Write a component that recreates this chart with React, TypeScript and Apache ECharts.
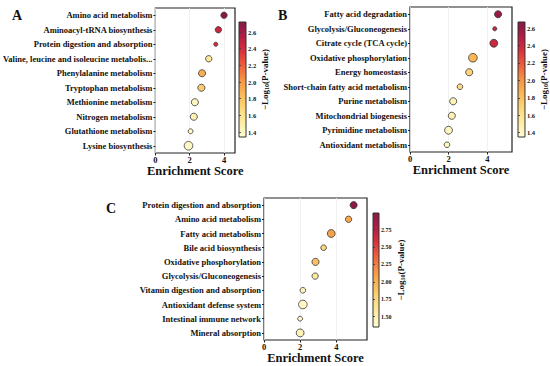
import React, { useEffect, useRef } from "react";
import * as echarts from "echarts";

// ---------- Panel A ----------
const catA = [
  "Amino acid metabolism",
  "Aminoacyl-tRNA biosynthesis",
  "Protein digestion and absorption",
  "Valine, leucine and isoleucine metabolis...",
  "Phenylalanine metabolism",
  "Tryptophan metabolism",
  "Methionine metabolism",
  "Nitrogen metabolism",
  "Glutathione metabolism",
  "Lysine biosynthesis",
];
const scoreA = [4.0, 3.67, 3.52, 3.11, 2.72, 2.68, 2.3, 2.24, 2.05, 1.93];
const pvalA = [2.7, 2.45, 2.38, 1.55, 1.9, 1.75, 1.42, 1.45, 1.4, 1.38];
const countA = [5, 5, 2, 5, 6, 6, 6, 6, 3, 8];

// ---------- Panel B ----------
const catB = [
  "Fatty acid degradation",
  "Glycolysis/Gluconeogenesis",
  "Citrate cycle (TCA cycle)",
  "Oxidative phosphorylation",
  "Energy homeostasis",
  "Short-chain fatty acid metabolism",
  "Purine metabolism",
  "Mitochondrial biogenesis",
  "Pyrimidine metabolism",
  "Antioxidant metabolism",
];
const scoreB = [4.55, 4.38, 4.33, 3.25, 3.06, 2.58, 2.23, 2.16, 1.99, 1.91];
const pvalB = [2.6, 2.42, 2.4, 1.85, 1.7, 1.65, 1.45, 1.45, 1.4, 1.42];
const countB = [6, 2, 7, 8, 6, 4, 6, 6, 7, 4];

// ---------- Panel C ----------
const catC = [
  "Protein digestion and absorption",
  "Amino acid metabolism",
  "Fatty acid metabolism",
  "Bile acid biosynthesis",
  "Oxidative phosphorylation",
  "Glycolysis/Gluconeogenesis",
  "Vitamin digestion and absorption",
  "Antioxidant defense system",
  "Intestinal immune network",
  "Mineral absorption",
];
const scoreC = [4.96, 4.68, 3.72, 3.3, 2.85, 2.83, 2.15, 2.15, 2.0, 2.0];
const pvalC = [2.95, 2.05, 2.1, 1.75, 1.9, 1.6, 1.45, 1.4, 1.4, 1.45];
const countC = [6, 5, 7, 4, 6, 5, 4, 8, 3, 7];

// colour bar ranges and ticks
const cbRangeA = [1.34, 2.72];
const cbRangeB = [1.35, 2.67];
const cbRangeC = [1.35, 2.99];
const cbTicksAB = [1.4, 1.6, 1.8, 2.0, 2.2, 2.4, 2.6];
const cbTicksC = [1.5, 1.75, 2.0, 2.25, 2.5, 2.75];
const xTicks = [0, 2, 4];

const PALETTE = [
  "#fffcd2",
  "#feeda2",
  "#fdd87a",
  "#fbb756",
  "#f79244",
  "#ef5d3c",
  "#d9303c",
  "#b11c45",
  "#841a47",
];

const FONT = "Liberation Serif, Times New Roman, serif";

function gradient() {
  const n = PALETTE.length - 1;
  return new echarts.graphic.LinearGradient(
    0,
    1,
    0,
    0,
    PALETTE.map((c, i) => ({ offset: i / n, color: c }))
  );
}

type Panel = {
  cats: string[];
  scores: number[];
  pvals: number[];
  counts: number[];
  xMax: number;
  cbRange: number[];
  cbTicks: number[];
  dec: number;
  plot: { left: number; top: number; width: number; height: number };
  bar: { left: number; top: number; width: number; height: number };
  cbLabelSize: number;
  cbNameGap: number;
};

export default function App() {
  const ref = useRef<HTMLDivElement>(null);

  useEffect(() => {
    if (!ref.current) return;
    const chart = echarts.init(ref.current, undefined, { renderer: "svg" });

    const panels: Panel[] = [
      {
        cats: catA,
        scores: scoreA,
        pvals: pvalA,
        counts: countA,
        xMax: 4.64,
        cbRange: cbRangeA,
        cbTicks: cbTicksAB,
        dec: 1,
        plot: { left: 155, top: 8, width: 80, height: 145 },
        bar: { left: 239, top: 22, width: 7, height: 115 },
        cbLabelSize: 6.5,
        cbNameGap: 12,
      },
      {
        cats: catB,
        scores: scoreB,
        pvals: pvalB,
        counts: countB,
        xMax: 5.27,
        cbRange: cbRangeB,
        cbTicks: cbTicksAB,
        dec: 1,
        plot: { left: 410, top: 7, width: 102, height: 145 },
        bar: { left: 518, top: 22, width: 7.5, height: 115 },
        cbLabelSize: 6.5,
        cbNameGap: 12,
      },
      {
        cats: catC,
        scores: scoreC,
        pvals: pvalC,
        counts: countC,
        xMax: 5.7,
        cbRange: cbRangeC,
        cbTicks: cbTicksC,
        dec: 2,
        plot: { left: 264, top: 198, width: 103, height: 142 },
        bar: { left: 373, top: 213, width: 6, height: 114 },
        cbLabelSize: 6,
        cbNameGap: 16,
      },
    ];

    const grid: any[] = [];
    const xAxis: any[] = [];
    const yAxis: any[] = [];
    const series: any[] = [];
    const visualMap: any[] = [];

    panels.forEach((p, i) => {
      const gPlot = grid.length;
      grid.push({
        ...p.plot,
        show: true,
        borderColor: "#222",
        borderWidth: 1.2,
        backgroundColor: "transparent",
      });
      const gBar = grid.length;
      grid.push({
        ...p.bar,
        show: true,
        borderColor: "#333",
        borderWidth: 1,
        backgroundColor: gradient(),
      });

      xAxis.push({
        gridIndex: gPlot,
        type: "value",
        min: 0,
        max: p.xMax,
        name: "Enrichment Score",
        nameLocation: "middle",
        nameGap: 9,
        nameTextStyle: {
          fontFamily: FONT,
          fontWeight: "bold",
          fontSize: 12.5,
          color: "#111",
          verticalAlign: "top",
        },
        axisLine: { show: false },
        axisTick: {
          show: true,
          length: 2.5,
          customValues: xTicks,
          lineStyle: { color: "#222", width: 1 },
        },
        axisLabel: {
          customValues: xTicks,
          margin: 2,
          fontFamily: FONT,
          fontWeight: "bold",
          fontSize: 8.5,
          color: "#111",
        },
        splitLine: { show: true, lineStyle: { color: "#eeeeee", width: 0.8 } },
      });
      xAxis.push({
        gridIndex: gBar,
        type: "value",
        show: false,
        min: 0,
        max: 1,
      });

      yAxis.push({
        gridIndex: gPlot,
        type: "category",
        data: p.cats,
        inverse: true,
        axisLine: { show: false },
        axisTick: {
          show: true,
          alignWithLabel: true,
          length: 2,
          lineStyle: { color: "#222" },
        },
        axisLabel: {
          margin: 3,
          fontFamily: FONT,
          fontWeight: "bold",
          fontSize: 8.5,
          color: "#111",
        },
        splitLine: { show: false },
      });
      yAxis.push({
        gridIndex: gBar,
        type: "value",
        position: "right",
        min: p.cbRange[0],
        max: p.cbRange[1],
        axisLine: { show: false },
        splitLine: { show: false },
        axisTick: {
          show: true,
          length: 2,
          customValues: p.cbTicks,
          lineStyle: { color: "#333", width: 0.8 },
        },
        axisLabel: {
          customValues: p.cbTicks,
          margin: 2,
          formatter: (v: number) => v.toFixed(p.dec),
          fontFamily: FONT,
          fontWeight: "bold",
          fontSize: p.cbLabelSize,
          color: "#111",
        },
        name: "{m|\u2212Log}{s|10}{m|(P-value)}",
        nameLocation: "middle",
        nameRotate: 90,
        nameGap: p.cbNameGap,
        nameTextStyle: {
          rich: {
            m: {
              fontFamily: FONT,
              fontWeight: "bold",
              fontSize: 9,
              color: "#111",
              lineHeight: 11,
            },
            s: {
              fontFamily: FONT,
              fontWeight: "bold",
              fontSize: 6,
              color: "#111",
              lineHeight: 11,
              verticalAlign: "bottom",
              padding: [3, 0, 0, 0],
            },
          },
        },
      });

      const sIdx = series.length;
      series.push({
        type: "scatter",
        xAxisIndex: gPlot,
        yAxisIndex: gPlot,
        data: p.cats.map((c, k) => [p.scores[k], c, p.pvals[k], p.counts[k]]),
        encode: { x: 0, y: 1 },
        symbolSize: (v: number[]) => 2.6 + v[3] * 0.75,
        itemStyle: { borderColor: "#333", borderWidth: 0.8, opacity: 1 },
        z: 3,
      });
      visualMap.push({
        type: "continuous",
        show: false,
        seriesIndex: sIdx,
        dimension: 2,
        min: p.cbRange[0],
        max: p.cbRange[1],
        inRange: { color: PALETTE },
      });
    });

    const letter = (t: string, x: number, y: number) => ({
      type: "text",
      x,
      y,
      style: {
        text: t,
        fontFamily: FONT,
        fontWeight: "bold",
        fontSize: 14,
        fill: "#111",
        verticalAlign: "middle",
      },
    });

    chart.setOption({
      animation: false,
      backgroundColor: "#ffffff",
      grid,
      xAxis,
      yAxis,
      series,
      visualMap,
      graphic: [letter("A", 12, 15), letter("B", 278, 15), letter("C", 106, 208)],
    });

    return () => chart.dispose();
  }, []);

  return (
    <div
      ref={ref}
      style={{ position: "fixed", left: 0, top: 0, width: 550, height: 366 }}
    />
  );
}
